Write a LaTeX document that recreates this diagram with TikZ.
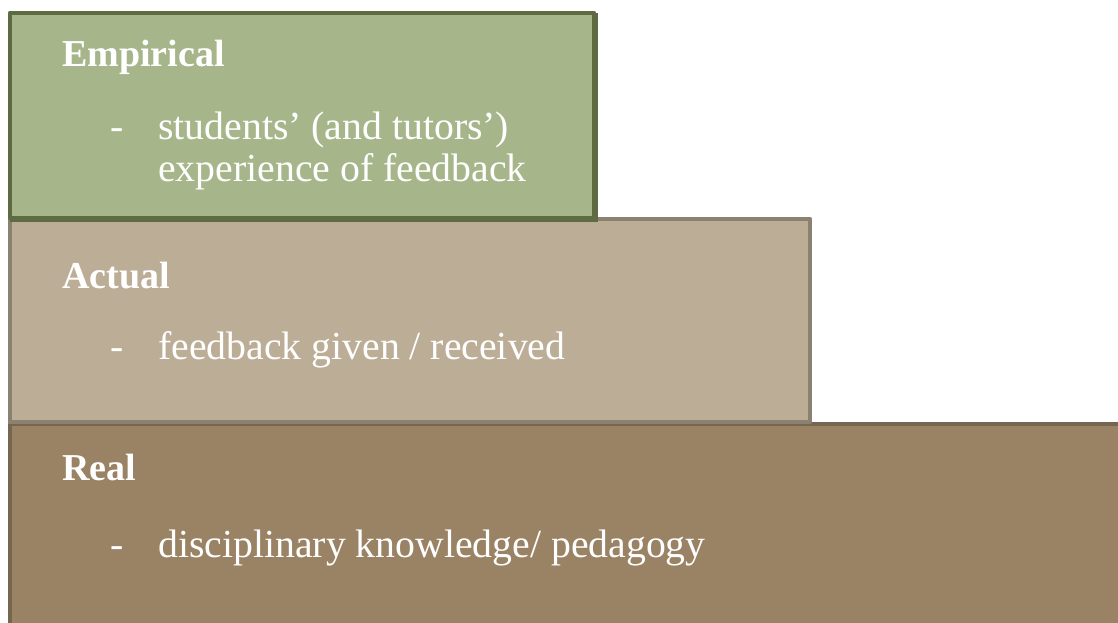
\documentclass[tikz,border=0pt]{standalone}
\usepackage{fontspec}
\setmainfont{Liberation Serif}
\usepackage{tikz}

\definecolor{empfill}{RGB}{167,182,138}
\definecolor{empline}{RGB}{93,106,66}
\definecolor{actfill}{RGB}{188,173,151}
\definecolor{actline}{RGB}{139,129,113}
\definecolor{realfill}{RGB}{154,130,100}
\definecolor{realline}{RGB}{118,101,79}

\tikzset{
  layer/.style={line width=3.6pt, line join=round},
  title/.style={anchor=base west, inner sep=0pt, text=white, font=\fontsize{28.5}{34}\selectfont\bfseries},
  item/.style={anchor=base west, inner sep=0pt, text=white, font=\fontsize{29.8}{34}\selectfont},
}

\begin{document}
\begin{tikzpicture}[x=0.75pt, y=-0.75pt]
  \useasboundingbox (0,0) rectangle (1118,623);
  \clip (0,0) rectangle (1118,623);

  % boxes, bottom layer first
  \draw[layer, draw=realline, fill=realfill] (10,424) rectangle (1140,650);
  \draw[layer, draw=actline, fill=actfill] (10,219) rectangle (810,422);
  \draw[line width=3.6pt, draw=empline] (12,15) rectangle (596,220);
  \draw[layer, draw=empline, fill=empfill] (10,13) rectangle (594,218);

  % Empirical
  \node (emp) [title] at (62,67) {Empirical};
  \node (empdash) [item] at (110,140) {-};
  \node (empitem) [item] at (158,140) {students’ (and tutors’)};
  \node (empitemb) [item] at (158,182) {experience of feedback};

  % Actual
  \node (act) [title] at (62,289) {Actual};
  \node (actdash) [item] at (110,360) {-};
  \node (actitem) [item] at (158,360) {feedback given / received};

  % Real
  \node (real) [title] at (62,481) {Real};
  \node (realdash) [item] at (110,557) {-};
  \node (realitem) [item] at (158,557) {disciplinary knowledge/ pedagogy};
\end{tikzpicture}
\end{document}
